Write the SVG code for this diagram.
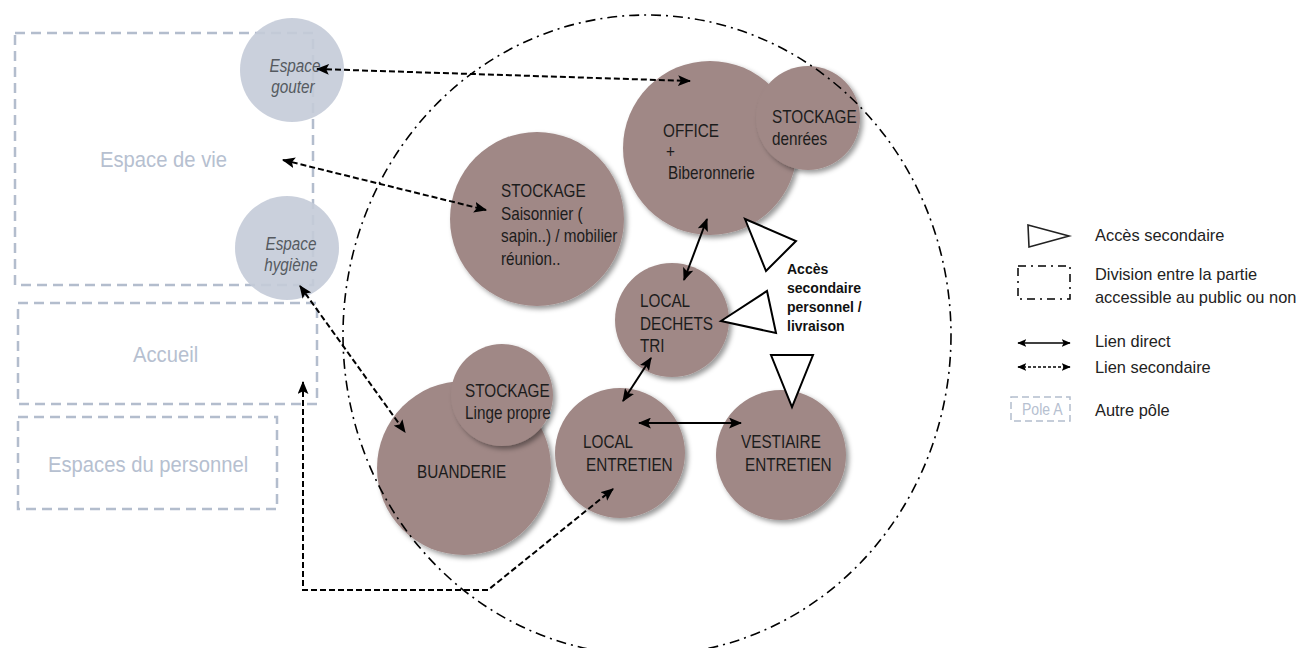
<svg xmlns="http://www.w3.org/2000/svg" width="1299" height="648" viewBox="0 0 1299 648">
<style>
.n{font-family:"Liberation Sans",Arial,sans-serif;}
.pole{fill:none;stroke:#b3bdcd;stroke-width:2.5;stroke-dasharray:10 6;}
.poletxt{fill:#b6c0d0;font-size:22px;}
.grey{fill:#c4cbd8;fill-opacity:0.9;}
.greytxt{fill:#555a60;font-size:18px;font-style:italic;text-anchor:middle;}
.brown{fill:#a08886;filter:url(#sh);}
.btxt{fill:#1c1c1c;font-size:18px;}
.sec{fill:none;stroke:#000;stroke-width:2;stroke-dasharray:6 3;marker-start:url(#ah);marker-end:url(#ah);}
.dir{fill:none;stroke:#000;stroke-width:2;marker-start:url(#ah);marker-end:url(#ah);}
.tri{fill:#fff;stroke:#000;stroke-width:2;stroke-linejoin:miter;}
.leg{fill:#222;font-size:16.4px;}
</style>
<defs>
<filter id="sh" x="-20%" y="-20%" width="150%" height="150%">
<feDropShadow dx="3" dy="3" stdDeviation="2.5" flood-color="#000" flood-opacity="0.4"/>
</filter>
<marker id="ah" viewBox="0 0 12 10" refX="11" refY="5" markerWidth="13" markerHeight="11" markerUnits="userSpaceOnUse" orient="auto-start-reverse">
<path d="M0,0 L12,5 L0,10 L2.5,5 z" fill="#000"/>
</marker>
<marker id="ahs" viewBox="0 0 12 10" refX="11" refY="5" markerWidth="9" markerHeight="8" markerUnits="userSpaceOnUse" orient="auto-start-reverse">
<path d="M0,0 L12,5 L0,10 L2.5,5 z" fill="#000"/>
</marker>
</defs>
<rect width="1299" height="648" fill="#fff"/>

<g id="pole-espace-de-vie">
<rect class="pole" x="15" y="33" width="298" height="252"/>
<text class="n poletxt" transform="translate(100,167) scale(0.92,1)">Espace de vie</text>
</g>
<g id="pole-accueil">
<rect class="pole" x="18" y="303" width="299" height="101"/>
<text class="n poletxt" transform="translate(133,362) scale(0.92,1)">Accueil</text>
</g>
<g id="pole-personnel">
<rect class="pole" x="18" y="417" width="259" height="92"/>
<text class="n poletxt" transform="translate(48,472) scale(0.92,1)">Espaces du personnel</text>
</g>

<g id="espace-gouter">
<circle class="grey" cx="292" cy="70" r="52"/>
<text class="n greytxt" transform="translate(295,72) scale(0.85,1)">Espace</text>
<text class="n greytxt" transform="translate(293,93) scale(0.85,1)">gouter</text>
</g>
<g id="espace-hygiene">
<circle class="grey" cx="287" cy="248" r="52"/>
<text class="n greytxt" transform="translate(291,250) scale(0.85,1)">Espace</text>
<text class="n greytxt" transform="translate(291,271) scale(0.85,1)">hygiène</text>
</g>

<g id="office">
<circle class="brown" cx="710" cy="148" r="87"/>
<text class="n btxt" transform="translate(663,137) scale(0.85,1)">OFFICE</text>
<text class="n btxt" transform="translate(666,158) scale(0.85,1)">+</text>
<text class="n btxt" transform="translate(668,179) scale(0.85,1)">Biberonnerie</text>
</g>
<g id="stockage-denrees">
<circle class="brown" cx="808" cy="118" r="52"/>
<text class="n btxt" transform="translate(772,123) scale(0.85,1)">STOCKAGE</text>
<text class="n btxt" transform="translate(772,145) scale(0.85,1)">denrées</text>
</g>
<g id="stockage-saisonnier">
<circle class="brown" cx="537" cy="219" r="87"/>
<text class="n btxt" transform="translate(501,197) scale(0.85,1)">STOCKAGE</text>
<text class="n btxt" transform="translate(501,220) scale(0.85,1)">Saisonnier (</text>
<text class="n btxt" transform="translate(501,242) scale(0.85,1)">sapin..) / mobilier</text>
<text class="n btxt" transform="translate(501,265) scale(0.85,1)">réunion..</text>
</g>
<g id="local-dechets">
<circle class="brown" cx="672" cy="320" r="57"/>
<text class="n btxt" transform="translate(640,307) scale(0.85,1)">LOCAL</text>
<text class="n btxt" transform="translate(640,330) scale(0.85,1)">DECHETS</text>
<text class="n btxt" transform="translate(640,352) scale(0.85,1)">TRI</text>
</g>
<g id="buanderie">
<circle class="brown" cx="464" cy="468" r="87"/>
<text class="n btxt" transform="translate(417,478) scale(0.85,1)">BUANDERIE</text>
</g>
<g id="stockage-linge">
<circle class="brown" cx="502" cy="395" r="51"/>
<text class="n btxt" transform="translate(465,397) scale(0.85,1)">STOCKAGE</text>
<text class="n btxt" transform="translate(465,419) scale(0.85,1)">Linge propre</text>
</g>
<g id="local-entretien">
<circle class="brown" cx="620" cy="453" r="65"/>
<text class="n btxt" transform="translate(583,448) scale(0.85,1)">LOCAL</text>
<text class="n btxt" transform="translate(586,471) scale(0.85,1)">ENTRETIEN</text>
</g>
<g id="vestiaire-entretien">
<circle class="brown" cx="781" cy="455" r="65"/>
<text class="n btxt" transform="translate(741,448) scale(0.85,1)">VESTIAIRE</text>
<text class="n btxt" transform="translate(745,471) scale(0.85,1)">ENTRETIEN</text>
</g>

<g id="division">
<ellipse cx="647" cy="335" rx="304" ry="320" fill="none" stroke="#000" stroke-width="1.6" stroke-dasharray="10 5 2 5"/>
</g>

<g id="acces">
<polygon class="tri" points="745,219 796,241 766,271"/>
<polygon class="tri" points="721,321 767,291 776,333"/>
<polygon class="tri" points="771,355 813,355 792,407"/>
<text font-family="Liberation Sans, sans-serif" font-weight="bold" font-size="14" fill="#111">
<tspan x="787" y="274">Accès</tspan>
<tspan x="787" y="293">secondaire</tspan>
<tspan x="787" y="312">personnel /</tspan>
<tspan x="787" y="331">livraison</tspan>
</text>
</g>

<g id="connectors">
<line class="sec" x1="317" y1="69" x2="690" y2="81"/>
<line class="sec" x1="283" y1="160" x2="486" y2="210"/>
<line class="sec" x1="300" y1="286" x2="405" y2="432"/>
<polyline class="sec" points="303,382 303,590 488,590 613,489"/>
<line class="dir" x1="707" y1="219" x2="684" y2="280"/>
<line class="dir" x1="651" y1="358" x2="623" y2="401"/>
<line class="dir" x1="639" y1="423" x2="741" y2="423"/>
</g>

<g id="legend">
<polygon points="1028,225 1069,236 1029,247" fill="#fff" stroke="#222" stroke-width="1.6"/>
<text class="n leg" x="1095" y="241">Accès secondaire</text>
<rect x="1018" y="266" width="52" height="33" fill="none" stroke="#000" stroke-width="1.5" stroke-dasharray="8 5 2 5"/>
<text class="n leg" x="1095" y="280">Division entre la partie</text>
<text class="n leg" x="1095" y="303">accessible au public ou non</text>
<line x1="1018" y1="343" x2="1070" y2="343" stroke="#000" stroke-width="1.5" marker-start="url(#ahs)" marker-end="url(#ahs)"/>
<text class="n leg" x="1095" y="347">Lien direct</text>
<line x1="1018" y1="367" x2="1070" y2="367" stroke="#000" stroke-width="1.5" stroke-dasharray="3 2" marker-start="url(#ahs)" marker-end="url(#ahs)"/>
<text class="n leg" x="1095" y="373">Lien secondaire</text>
<rect x="1011" y="397" width="59" height="24" fill="none" stroke="#b3bdcd" stroke-width="1.5" stroke-dasharray="7 4"/>
<text class="n" transform="translate(1022,415) scale(0.85,1)" font-size="16.5" fill="#b6c0d0">Pole A</text>
<text class="n leg" x="1095" y="416">Autre pôle</text>
</g>
</svg>
